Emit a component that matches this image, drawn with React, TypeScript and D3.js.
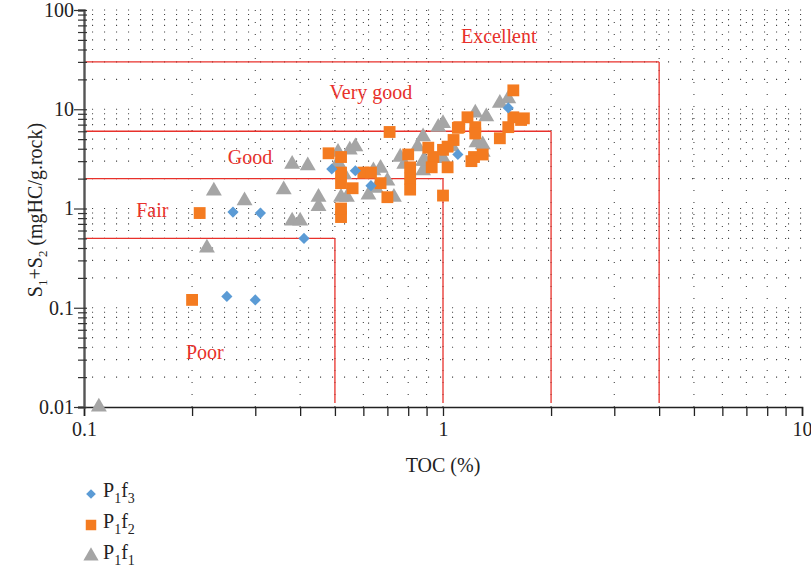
import { useEffect, useRef } from "react";
import * as d3 from "d3";

// TOC (%) vs S1+S2 (mgHC/g.rock)
const p1f3Toc = [0.26, 0.31, 0.41, 0.25, 0.3, 0.57, 0.63, 0.49, 1.1, 1.52];
const p1f3S = [0.92, 0.9, 0.5, 0.13, 0.12, 2.4, 1.7, 2.5, 3.5, 10.3];

const p1f2Toc = [
  0.21, 0.2, 1.0, 0.52, 0.52, 0.56, 0.48, 0.71, 0.52, 0.52, 0.6, 0.63, 0.7,
  0.67, 0.8, 0.81, 0.81, 0.81, 0.91, 0.94, 0.93, 1.03, 1.07, 1.1, 1.57, 1.17,
  1.23, 1.11, 1.03, 1.0, 1.23, 1.22, 1.2, 1.29, 1.44, 1.52, 1.57, 1.68, 1.65,
  0.52,
];
const p1f2S = [
  0.9, 0.12, 1.35, 0.82, 1.0, 1.6, 3.6, 5.9, 2.3, 1.8, 2.3, 2.3, 1.3, 1.8,
  3.5, 2.6, 2.0, 1.55, 4.1, 3.3, 2.6, 2.6, 4.9, 6.5, 15.5, 8.3, 6.6, 6.6, 4.2,
  3.9, 5.7, 3.3, 3.0, 3.5, 5.1, 6.6, 8.3, 8.1, 7.8, 3.3,
];

const p1f1Toc = [
  0.11, 0.22, 0.23, 0.28, 0.36, 0.38, 0.38, 0.4, 0.42, 0.45, 0.45, 0.51,
  0.55, 0.57, 0.51, 0.53, 0.52, 0.54, 0.62, 0.64, 0.67, 0.65, 0.7, 0.73, 0.76,
  0.78, 0.85, 0.88, 0.88, 0.91, 0.88, 1.0, 1.06, 0.97, 1.0, 1.23, 1.32, 1.44,
  1.52, 1.24, 1.29, 1.29, 0.89,
];
const p1f1S = [
  0.01, 0.4, 1.5, 1.2, 1.55, 2.8, 0.75, 0.75, 2.7, 1.3, 1.05, 3.7, 3.9, 4.2,
  2.9, 2.2, 1.3, 1.3, 1.37, 2.4, 2.55, 1.6, 1.9, 1.3, 3.3, 2.8, 4.2, 5.3, 3.0,
  2.8, 2.4, 3.2, 4.2, 6.6, 7.2, 9.2, 8.4, 11.5, 12.8, 4.6, 4.4, 3.7, 3.0,
];

// classification boundaries
const boundToc = [0.5, 1, 2, 4];
const boundS = [0.5, 2, 6, 30];

const classNames = ["Excellent", "Very good", "Good", "Fair", "Poor"];
const classToc = [1.43, 0.63, 0.29, 0.155, 0.217];
const classS = [55, 14.9, 3.3, 0.965, 0.036];

const xTicks = [0.1, 1, 10];
const yTicks = [0.01, 0.1, 1, 10, 100];

const RED = "#e8312b";
const BLUE = "#5b9bd5";
const ORANGE = "#f47b20";
const GRAY = "#a5a5a5";
const FONT = "'Liberation Serif', 'DejaVu Serif', serif";

export default function App() {
  const svgRef = useRef<SVGSVGElement>(null);

  useEffect(() => {
    if (!svgRef.current) return;
    const width = 811;
    const height = 575;
    const margin = { top: 10, right: 9, bottom: 168, left: 84 };

    d3.select(svgRef.current).selectAll("*").remove();
    const svg = d3
      .select(svgRef.current)
      .attr("width", width)
      .attr("height", height);

    const x = d3
      .scaleLog()
      .domain([0.1, 10])
      .range([margin.left, width - margin.right]);
    const y = d3
      .scaleLog()
      .domain([0.01, 100])
      .range([height - margin.bottom, margin.top]);

    const xMinor = d3.range(-1, 1).flatMap((e) =>
      d3.range(1, 10).map((m) => m * Math.pow(10, e))
    );
    xMinor.push(10);
    const yMinor = d3.range(-2, 2).flatMap((e) =>
      d3.range(1, 10).map((m) => m * Math.pow(10, e))
    );
    yMinor.push(100);

    // dotted grid
    const grid = svg.append("g");
    grid
      .selectAll("line.h")
      .data(yMinor.filter((d) => d > 0.01))
      .enter()
      .append("line")
      .attr("x1", x(0.1) + 8)
      .attr("x2", x(10))
      .attr("y1", (d) => y(d))
      .attr("y2", (d) => y(d))
      .style("stroke", "#444")
      .style("stroke-width", "1.1px")
      .style("stroke-dasharray", "1.1,10.9");
    grid
      .selectAll("line.v")
      .data(xMinor.filter((d) => d > 0.1 && d < 10))
      .enter()
      .append("line")
      .attr("x1", (d) => x(d))
      .attr("x2", (d) => x(d))
      .attr("y1", y(100))
      .attr("y2", y(0.01))
      .style("stroke", "#444")
      .style("stroke-width", "1.1px")
      .style("stroke-dasharray", "1.1,10.9");

    // red boundaries
    const bounds = svg.append("g");
    boundToc.forEach((t, i) => {
      bounds
        .append("line")
        .attr("x1", x(0.1))
        .attr("x2", x(t))
        .attr("y1", y(boundS[i]))
        .attr("y2", y(boundS[i]))
        .style("stroke", RED)
        .style("stroke-width", "1.3px");
      bounds
        .append("line")
        .attr("x1", x(t))
        .attr("x2", x(t))
        .attr("y1", y(boundS[i]))
        .attr("y2", y(0.01) - 4)
        .style("stroke", RED)
        .style("stroke-width", "1.3px");
    });

    classNames.forEach((name, i) => {
      svg
        .append("text")
        .attr("x", x(classToc[i]))
        .attr("y", y(classS[i]))
        .attr("dy", "0.35em")
        .attr("text-anchor", "middle")
        .style("fill", RED)
        .style("font-family", FONT)
        .style("font-size", "20px")
        .text(name);
    });

    // axes
    const xAxisG = svg
      .append("g")
      .attr("transform", `translate(0, ${y(0.01)})`)
      .call(
        d3
          .axisBottom(x)
          .tickValues(xMinor)
          .tickSize(9)
          .tickFormat((d) => (xTicks.includes(+d) ? String(+d) : ""))
      );
    xAxisG.select(".domain").style("stroke", "#222").style("stroke-width", "1.6px");
    xAxisG.selectAll(".tick line").style("stroke", "#222").style("stroke-width", "1.3px");
    xAxisG
      .selectAll(".tick text")
      .attr("dy", "0.85em")
      .style("font-family", FONT)
      .style("font-size", "20px")
      .style("fill", "#222");

    const yAxisG = svg
      .append("g")
      .attr("transform", `translate(${x(0.1)}, 0)`)
      .call(
        d3
          .axisLeft(y)
          .tickValues(yMinor)
          .tickSize(6)
          .tickFormat((d) => (yTicks.includes(+d) ? String(+d) : ""))
      );
    yAxisG.select(".domain").style("stroke", "#555").style("stroke-width", "2.4px");
    yAxisG.selectAll(".tick line").style("stroke", "#333").style("stroke-width", "1.2px");
    yAxisG
      .selectAll<SVGLineElement, number>(".tick line")
      .attr("x1", 3)
      .attr("x2", (d) => (yTicks.includes(+d) ? -10 : -6));
    yAxisG
      .selectAll(".tick text")
      .attr("x", -10)
      .style("font-family", FONT)
      .style("font-size", "20px")
      .style("fill", "#222");

    // axis titles
    svg
      .append("text")
      .attr("x", (x(0.1) + x(10)) / 2)
      .attr("y", 472)
      .attr("text-anchor", "middle")
      .style("font-family", FONT)
      .style("font-size", "20px")
      .style("fill", "#222")
      .text("TOC (%)");

    const yTitle = svg
      .append("text")
      .attr("transform", `translate(42, 210) rotate(-90)`)
      .attr("text-anchor", "middle")
      .style("font-family", FONT)
      .style("font-size", "20px")
      .style("fill", "#222");
    yTitle.append("tspan").text("S");
    yTitle.append("tspan").attr("dy", 5).style("font-size", "13px").text("1");
    yTitle.append("tspan").attr("dy", -5).text("+S");
    yTitle.append("tspan").attr("dy", 5).style("font-size", "13px").text("2");
    yTitle.append("tspan").attr("dy", -5).text(" (mgHC/g.rock)");

    // markers
    const diamond = d3.symbol().type(d3.symbolDiamond2).size(80);
    const square = d3.symbol().type(d3.symbolSquare).size(140);
    const triangle = d3.symbol().type(d3.symbolTriangle).size(110);

    const pts = svg.append("g");
    pts
      .selectAll("path.f1")
      .data(d3.range(p1f1Toc.length))
      .enter()
      .append("path")
      .attr("d", triangle()!)
      .attr("transform", (i) => `translate(${x(p1f1Toc[i])}, ${y(p1f1S[i])})`)
      .style("fill", GRAY);
    pts
      .selectAll("path.f2")
      .data(d3.range(p1f2Toc.length))
      .enter()
      .append("path")
      .attr("d", square()!)
      .attr("transform", (i) => `translate(${x(p1f2Toc[i])}, ${y(p1f2S[i])})`)
      .style("fill", ORANGE);
    pts
      .selectAll("path.f3")
      .data(d3.range(p1f3Toc.length))
      .enter()
      .append("path")
      .attr("d", diamond()!)
      .attr("transform", (i) => `translate(${x(p1f3Toc[i])}, ${y(p1f3S[i])})`)
      .style("fill", BLUE);

    // legend
    const legend = [
      { sym: d3.symbol().type(d3.symbolDiamond2).size(60)(), color: BLUE, sub: "3" },
      { sym: d3.symbol().type(d3.symbolSquare).size(110)(), color: ORANGE, sub: "2" },
      { sym: d3.symbol().type(d3.symbolTriangle).size(100)(), color: GRAY, sub: "1" },
    ];
    legend.forEach((l, i) => {
      const ly = 494 + i * 31;
      svg
        .append("path")
        .attr("d", l.sym!)
        .attr("transform", `translate(91, ${ly})`)
        .style("fill", l.color);
      const t = svg
        .append("text")
        .attr("x", 103)
        .attr("y", ly + 3)
        .style("font-family", FONT)
        .style("font-size", "20px")
        .style("fill", "#222");
      t.append("tspan").text("P");
      t.append("tspan").attr("dy", 6).style("font-size", "14px").text("1");
      t.append("tspan").attr("dy", -6).text("f");
      t.append("tspan").attr("dy", 6).style("font-size", "14px").text(l.sub);
    });
  }, []);

  return (
    <svg
      ref={svgRef}
      style={{ position: "absolute", left: 0, top: 0, background: "#fff" }}
    />
  );
}
